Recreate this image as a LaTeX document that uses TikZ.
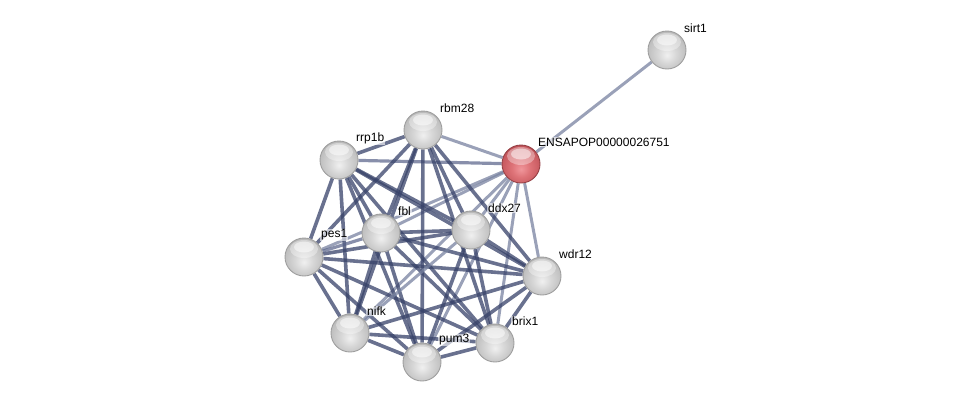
\documentclass[tikz,border=0pt]{standalone}
\usepackage{fontspec}
\setmainfont{Liberation Sans}
\usetikzlibrary{calc}
\pgfdeclarelayer{bg}
\pgfsetlayers{bg,main}
\definecolor{sA}{RGB}{240,240,240}
\definecolor{sB}{RGB}{215,215,215}
\definecolor{sC}{RGB}{190,190,190}
\definecolor{sD}{RGB}{160,160,160}
\definecolor{rA}{RGB}{240,150,155}
\definecolor{rB}{RGB}{222,115,120}
\definecolor{rC}{RGB}{198,88,94}
\definecolor{rD}{RGB}{160,60,66}
\pgfdeclareradialshading{greysph}{\pgfpoint{0bp}{-7bp}}{color(0bp)=(sA); color(12bp)=(sB); color(26bp)=(sC); color(34bp)=(sD); color(50bp)=(sD)}
\pgfdeclareradialshading{redsph}{\pgfpoint{0bp}{-7bp}}{color(0bp)=(rA); color(12bp)=(rB); color(26bp)=(rC); color(34bp)=(rD); color(50bp)=(rD)}
\begin{document}
\begin{tikzpicture}[x=1pt,y=-1pt,
  hl/.style={path picture={\fill[white,opacity=0.35] ($(path picture bounding box.center)+(0,-8)$) ellipse (14pt and 9pt);
                           \fill[white,opacity=0.5] ($(path picture bounding box.center)+(0,-10)$) ellipse (10pt and 5.5pt);}},
  prot/.style={circle,minimum size=38pt,inner sep=0pt,draw=gray!75,line width=0.9pt,shading=greysph,hl},
  query/.style={prot,shading=redsph,draw={rgb,255:red,150;green,65;blue,70}},
  lbl/.style={anchor=west,font=\fontsize{12}{14}\selectfont,inner sep=1pt,fill=white,fill opacity=0.6,text opacity=1},
  dk/.style={draw={rgb,255:red,55;green,66;blue,105},line width=3.6pt,opacity=0.75},
  md/.style={draw={rgb,255:red,85;green,96;blue,135},line width=3.2pt,opacity=0.7},
  lt/.style={draw={rgb,255:red,120;green,130;blue,160},line width=3pt,opacity=0.75}]
\useasboundingbox (0,0) rectangle (976,407);
\node[prot] (sirt1) at (667,50) {};
\node[query] (ens) at (521,164) {};
\node[prot] (rbm28) at (423,130) {};
\node[prot] (rrp1b) at (339,160) {};
\node[prot] (fbl) at (381,233) {};
\node[prot] (ddx27) at (471,230) {};
\node[prot] (pes1) at (304,257) {};
\node[prot] (wdr12) at (542,276) {};
\node[prot] (nifk) at (350,333) {};
\node[prot] (pum3) at (422,362) {};
\node[prot] (brix1) at (495,343) {};
\foreach \n/\t in {sirt1/sirt1,ens/ENSAPOP00000026751,rbm28/rbm28,rrp1b/rrp1b,fbl/fbl,ddx27/ddx27,pes1/pes1,wdr12/wdr12,nifk/nifk,pum3/pum3,brix1/brix1}
  \node[lbl] (L\n) at ($(\n)+(16,-22)$) {\t};
\begin{pgfonlayer}{bg}
\draw[lt] (ens) -- (sirt1);
\foreach \a in {rbm28,fbl,ddx27,pes1,wdr12,nifk,pum3,brix1}
  \draw[lt] (ens) -- (\a);
\draw[md] (ens) -- (rrp1b);
\foreach \a/\b in {rbm28/rrp1b,rbm28/fbl,rbm28/ddx27,rbm28/pes1,rbm28/wdr12,rbm28/nifk,rbm28/pum3,rbm28/brix1,
  rrp1b/fbl,rrp1b/ddx27,rrp1b/pes1,rrp1b/wdr12,rrp1b/nifk,rrp1b/pum3,rrp1b/brix1,
  fbl/ddx27,fbl/wdr12,fbl/nifk,fbl/pum3,fbl/brix1,
  ddx27/pes1,ddx27/wdr12,ddx27/pum3,ddx27/brix1,
  pes1/wdr12,pes1/nifk,pes1/pum3,pes1/brix1,
  wdr12/nifk,wdr12/pum3,wdr12/brix1,
  nifk/pum3,nifk/brix1,pum3/brix1}
  \draw[dk] (\a) -- (\b);
\draw[md] (fbl) -- (pes1);
\draw[lt] (nifk) -- (ddx27);
\end{pgfonlayer}
\end{tikzpicture}
\end{document}
